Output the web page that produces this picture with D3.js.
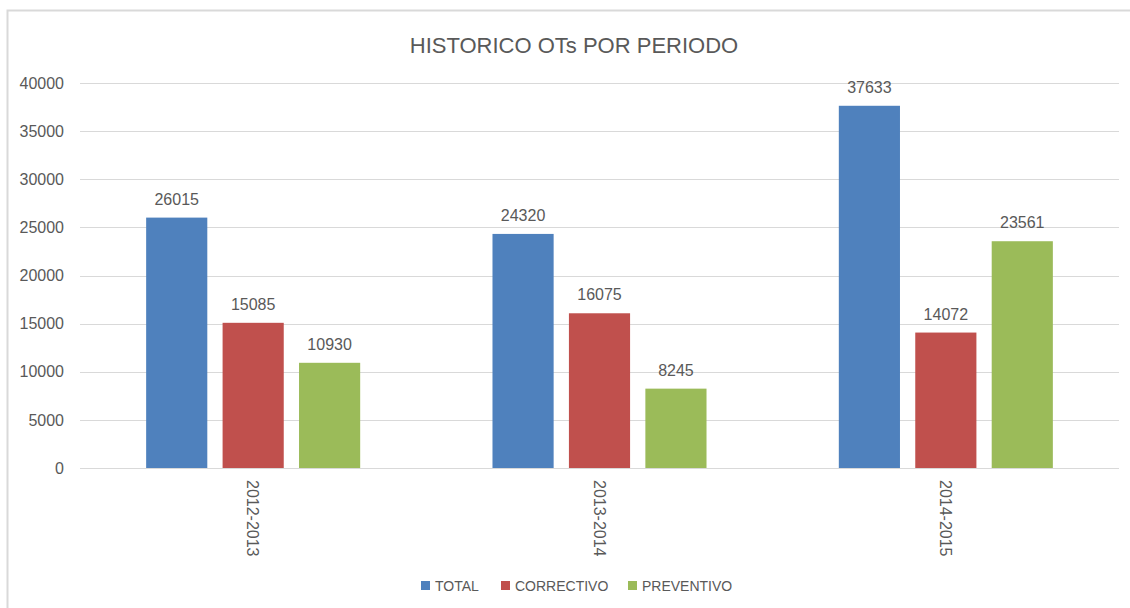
<!doctype html>
<html>
<head>
<meta charset="utf-8">
<script src="https://d3js.org/d3.v7.min.js"></script>
<style>
  body { margin: 0; background: #fff; }
  text { font-family: "Liberation Sans", Arial, sans-serif; fill: #595959; }
</style>
</head>
<body>
<script>
// data
var periods = ["2012-2013", "2013-2014", "2014-2015"];
var seriesNames = ["TOTAL", "CORRECTIVO", "PREVENTIVO"];
var total = [26015, 24320, 37633];
var correctivo = [15085, 16075, 14072];
var preventivo = [10930, 8245, 23561];
var yTicks = [0, 5000, 10000, 15000, 20000, 25000, 30000, 35000, 40000];
var colors = ["#4f81bd", "#c0504d", "#9bbb59"];

var seriesValues = [total, correctivo, preventivo];

var width = 1130, height = 608;
var plot = {left: 80, right: 1119, top: 83, bottom: 468};

var svg = d3.select("body").append("svg")
    .attr("width", width)
    .attr("height", height);

// chart border (cropped on right / bottom)
svg.append("path")
    .attr("d", "M7.5,608 L7.5,10.5 L1130,10.5")
    .attr("fill", "none")
    .attr("stroke", "#d9d9d9")
    .attr("stroke-width", 2);

svg.append("text")
    .attr("x", 574)
    .attr("y", 53)
    .attr("text-anchor", "middle")
    .attr("font-size", "22px")
    .text("HISTORICO OTs POR PERIODO");

var x0 = d3.scaleBand()
    .domain(periods)
    .range([plot.left, plot.right])
    .paddingInner(0.382)
    .paddingOuter(0.191);

var x1 = d3.scaleBand()
    .domain(seriesNames)
    .range([0, x0.bandwidth()])
    .paddingInner(0.2);

var y = d3.scaleLinear()
    .domain([0, 40000])
    .range([plot.bottom, plot.top]);

// gridlines
svg.append("g")
    .selectAll("line")
    .data(yTicks)
    .enter().append("line")
    .attr("x1", plot.left)
    .attr("x2", plot.right)
    .attr("y1", function(d) { return Math.round(y(d)) + 0.5; })
    .attr("y2", function(d) { return Math.round(y(d)) + 0.5; })
    .attr("stroke", "#d9d9d9")
    .attr("stroke-width", 1);

// y axis labels
var yAxis = svg.append("g")
    .attr("transform", "translate(" + plot.left + ",0)")
    .call(d3.axisLeft(y).tickValues(yTicks).tickSize(0).tickPadding(16).tickFormat(d3.format("d")));
yAxis.select(".domain").remove();
yAxis.selectAll("text").attr("font-size", "16px").style("font-family", "Liberation Sans, Arial, sans-serif").attr("fill", "#595959");

// bars
var groups = svg.append("g")
    .selectAll("g")
    .data(periods)
    .enter().append("g")
    .attr("transform", function(d) { return "translate(" + x0(d) + ",0)"; });

groups.each(function(p, i) {
  var g = d3.select(this);
  var rows = seriesNames.map(function(s, k) { return {name: s, value: seriesValues[k][i], color: colors[k]}; });
  g.selectAll("rect")
    .data(rows)
    .enter().append("rect")
    .attr("x", function(d) { return x1(d.name); })
    .attr("y", function(d) { return y(d.value); })
    .attr("width", x1.bandwidth())
    .attr("height", function(d) { return y(0) - y(d.value); })
    .attr("fill", function(d) { return d.color; });
  g.selectAll("text.lbl")
    .data(rows)
    .enter().append("text")
    .attr("class", "lbl")
    .attr("x", function(d) { return x1(d.name) + x1.bandwidth() / 2; })
    .attr("y", function(d) { return y(d.value) - 13; })
    .attr("text-anchor", "middle")
    .attr("font-size", "16px")
    .text(function(d) { return d.value; });
});

// x axis labels (rotated)
svg.append("g")
    .selectAll("text")
    .data(periods)
    .enter().append("text")
    .attr("transform", function(d) {
      return "translate(" + (x0(d) + x0.bandwidth() / 2 - 6) + "," + (plot.bottom + 12) + ") rotate(90)";
    })
    .attr("text-anchor", "start")
    .attr("font-size", "16px")
    .text(function(d) { return d; });

// legend
var legendX = [421, 501, 628];
var legend = svg.append("g")
    .selectAll("g")
    .data(seriesNames)
    .enter().append("g")
    .attr("transform", function(d, i) { return "translate(" + legendX[i] + ",581)"; });
legend.append("rect")
    .attr("width", 9)
    .attr("height", 9)
    .attr("fill", function(d, i) { return colors[i]; });
legend.append("text")
    .attr("x", 14)
    .attr("y", 10)
    .attr("font-size", "14px")
    .text(function(d) { return d; });
</script>
</body>
</html>
